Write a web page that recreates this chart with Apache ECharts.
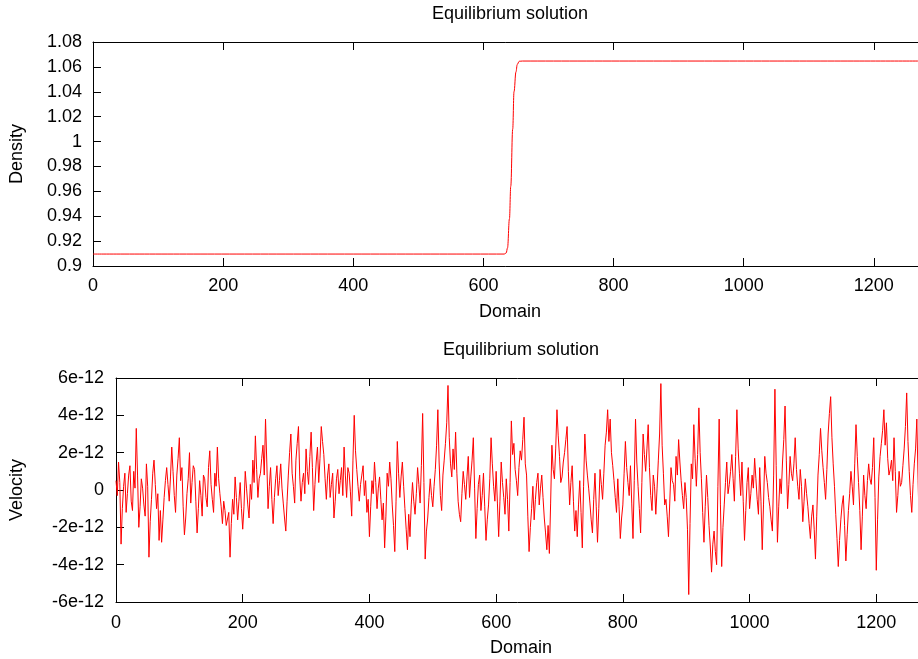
<!DOCTYPE html>
<html>
<head>
<meta charset="utf-8">
<script src="https://cdn.jsdelivr.net/npm/echarts@6/dist/echarts.min.js"></script>
<style>
html,body{margin:0;padding:0;background:#fff;}
#c{width:918px;height:659px;}
</style>
</head>
<body>
<div id="c"></div>
<script>
// ---- Data ----
const titleText = 'Equilibrium solution';
const xName = 'Domain';
const densityName = 'Density';
const velocityName = 'Velocity';

// Domain axis ticks
const domainMin = 0, domainMax = 1400, domainStep = 200;

// Density profile (top panel)
const densityX = [0, 632, 635, 637, 640, 642, 645, 647, 650, 652, 655, 660, 1280];
const densityY = [0.9096, 0.9096, 0.9105, 0.9145, 0.938, 0.964, 1.01, 1.04, 1.056, 1.062, 1.0645, 1.0647, 1.0647];
const densityTicks = { min: 0.9, max: 1.08, step: 0.02 };

// Velocity (bottom panel), sampled every 2 domain units, values in units of 1e-12
const velocityDx = 2;
const velocityE12 = [
  0.5,-0.3,1.5,0.4,-2.9,-1.0,0.2,0.9,-1.2,-0.2,0.8,1.3,-0.6,-1.1,1.0,0.1,3.3,0.8,-2.0,-0.9,
  0.6,0.1,-0.8,-1.4,1.4,0.2,-3.6,-1.7,-0.5,0.9,1.6,0.3,-1.0,-0.2,-2.7,-1.1,-2.8,-1.6,-0.4,0.5,
  1.2,0.3,-0.6,0.7,2.3,1.0,-0.3,-1.2,0.8,1.7,2.8,0.5,1.2,-0.9,-2.4,-1.5,-0.2,0.6,2.0,-0.7,
  0.4,1.3,1.1,-0.6,-2.3,-1.0,0.5,-0.3,-1.4,0.8,0.6,-0.4,-0.9,1.2,2.1,0.3,-0.5,-1.2,0.9,0.2,
  2.3,0.6,-0.2,-0.9,-1.8,-0.6,-1.1,-1.9,-2.0,-1.2,-3.6,-1.8,-0.5,-1.3,0.7,-0.4,-1.6,-0.6,0.4,-1.0,
  -2.1,-0.9,1.0,0.1,-0.8,-1.5,0.3,-0.5,1.6,0.4,2.9,1.1,-0.4,0.6,0.9,1.7,2.4,0.8,3.8,1.5,
  -1.0,0.2,1.2,-0.5,-1.8,-0.4,0.6,1.3,-0.3,0.5,1.4,0.1,-0.7,-1.5,-2.2,-0.6,0.8,2.0,3.0,0.9,
  0.2,-0.7,1.6,2.5,3.4,0.7,-0.6,0.4,0.9,-0.2,2.2,1.0,0.3,1.8,3.1,1.2,-1.1,0.3,1.5,2.3,
  0.4,1.7,3.4,2.6,1.9,0.6,-0.5,0.8,1.4,-0.4,0.3,0.9,-1.5,-0.6,0.6,1.1,-0.2,0.5,1.2,-0.3,
  2.3,0.8,-0.4,1.2,0.9,-0.1,-1.4,1.6,4.0,2.1,1.1,0.2,-0.6,0.3,0.8,1.3,-0.3,0.5,-1.2,-0.5,
  -2.5,-0.9,0.5,-0.2,1.5,0.4,-1.0,0.1,0.7,-0.5,-1.6,-0.7,-3.1,-1.4,0.9,0.2,1.5,0.6,-0.8,-1.9,
  -3.3,-0.6,2.6,0.9,-0.4,0.7,1.5,0.2,-1.0,-2.1,-3.2,-1.3,-2.5,-0.8,0.4,-0.6,-1.3,-0.2,1.2,0.3,
  -0.7,1.3,4.1,0.4,-3.7,-2.2,-1.5,-0.4,0.6,-0.3,-0.9,0.2,1.1,2.4,4.3,1.5,-0.3,-1.1,0.8,1.6,
  2.5,3.6,5.6,2.8,1.4,0.7,2.2,1.1,3.1,0.9,-0.6,-1.3,-1.7,-0.2,1.0,0.3,-0.5,0.7,1.8,-0.4,
  0.7,1.6,2.8,0.1,-2.6,-1.0,0.3,0.8,-1.1,-0.3,0.9,-0.9,-2.7,-1.6,-0.8,0.6,2.8,1.4,0.2,-0.6,
  1.0,-0.7,-2.5,-0.6,1.5,0.4,-0.4,-1.3,0.6,-0.5,-2.2,0.4,3.7,1.9,2.5,1.1,0.5,-0.3,1.2,2.1,
  1.6,2.7,3.9,1.4,0.8,-1.4,-3.3,-2.0,-1.0,0.2,-1.6,-0.5,0.4,0.9,-0.8,0.1,0.8,-0.4,-1.5,-2.3,
  -3.2,-1.9,-3.4,-0.7,2.4,1.1,0.6,2.2,4.3,2.9,1.8,0.4,0.7,1.5,2.0,2.7,3.4,1.0,-0.8,0.4,
  1.3,-0.6,-2.2,-1.1,-2.5,-0.8,0.5,-1.2,-3.1,0.2,3.0,1.6,0.8,0.1,-0.7,-1.6,-2.3,-0.5,0.9,-0.9,
  -2.8,-1.0,1.1,0.3,-0.5,0.9,2.4,3.1,4.3,2.6,3.8,2.0,1.3,0.5,-0.4,-1.2,0.6,-0.9,-2.6,-1.5,
  -0.8,0.9,2.6,1.2,0.4,-0.3,1.3,-0.7,-2.6,0.5,3.8,1.5,0.2,-1.0,-2.3,0.4,3.0,1.9,1.0,2.2,
  3.5,1.2,-0.3,-1.1,0.8,0.2,-1.3,0.1,1.6,3.0,5.7,2.4,0.9,-0.8,-0.5,-1.4,-2.5,-0.7,1.2,0.5,
  0.3,-0.6,1.8,0.8,2.7,1.5,0.5,-0.3,-1.0,0.4,-0.4,-2.1,-5.6,-1.8,1.4,0.6,3.5,1.7,0.2,1.9,
  4.4,2.0,0.6,-1.2,-2.8,-0.9,0.8,-0.4,-1.9,-3.0,-4.4,-2.9,-2.2,-3.3,-4.0,0.2,3.8,-0.8,-4.1,-2.0,
  -0.8,0.4,1.5,-0.2,0.3,1.0,1.9,0.6,-0.6,1.8,4.3,2.2,0.9,-0.3,1.5,-0.6,-2.7,-1.1,0.4,1.2,
  -1.0,-0.2,0.8,0.1,1.7,0.6,-0.5,-1.3,1.2,-0.6,-3.2,-0.8,1.8,0.9,0.4,-0.4,-0.9,-1.6,-2.2,0.8,
  5.4,1.3,-2.8,-0.9,0.6,-0.2,1.5,2.7,4.5,1.6,-1.0,0.3,1.8,0.9,0.5,1.4,2.8,1.1,0.2,-0.5,
  1.1,0.2,-1.7,-0.6,0.6,-0.2,-0.9,-1.8,-2.6,-1.4,-0.8,-2.1,-3.7,-1.4,0.8,1.9,3.3,2.1,1.2,0.4,
  -0.5,1.1,3.0,4.1,5.0,2.8,1.4,0.2,-1.3,-2.6,-4.1,-2.7,-1.6,-0.8,-0.3,-1.9,-3.8,-2.4,-1.1,-0.2,
  1.0,0.2,-0.8,1.4,3.5,1.8,0.4,-1.1,-3.2,-1.4,0.8,-0.3,-1.0,0.5,1.4,0.6,0.3,1.2,2.8,-0.4,
  -4.3,-1.6,0.7,1.8,2.5,3.2,4.3,2.4,3.6,1.7,0.8,1.1,1.6,0.5,2.8,1.0,-1.2,-0.3,1.0,0.2,
  0.4,1.3,2.2,3.4,5.2,2.6,1.0,-0.3,-1.2,0.3,1.4,2.2,3.8,0.5,-2.4,-0.6,1.7,-0.4,0.6,-1.3,
  -0.5
];
const velocityTicksE12 = { min: -6, max: 6, step: 2 };

// ---- Chart ----
const FONT = '"Liberation Sans", Arial, sans-serif';
const AX = '#000';
const densityData = densityX.map((x, i) => [x, densityY[i]]);
const velocityData = velocityE12.map((v, i) => [i * velocityDx, v * 1e-12]);

function xAxisPair(gridIndex, labelMargin) {
  const common = {
    type: 'value', gridIndex: gridIndex, min: domainMin, max: domainMax, interval: domainStep,
    splitLine: { show: false },
    axisLine: { show: true, onZero: false, lineStyle: { color: AX, width: 1 } },
    axisTick: { show: true, inside: true, length: 8, lineStyle: { color: AX, width: 1 } }
  };
  return [
    Object.assign({}, common, {
      position: 'bottom',
      axisLabel: { show: true, color: '#000', fontSize: 18, fontFamily: FONT, margin: labelMargin,
        formatter: v => String(v) }
    }),
    Object.assign({}, common, { position: 'top', axisLabel: { show: false } })
  ];
}

const option = {
  animation: false,
  backgroundColor: '#fff',
  grid: [
    { left: 93, top: 42, width: 911, height: 224, containLabel: false, outerBoundsMode: 'none' },
    { left: 116, top: 378, width: 887, height: 224, containLabel: false, outerBoundsMode: 'none' }
  ],
  xAxis: [].concat(xAxisPair(0, 11), xAxisPair(1, 12)),
  yAxis: [
    {
      type: 'value', gridIndex: 0,
      min: densityTicks.min, max: densityTicks.max, interval: densityTicks.step,
      splitLine: { show: false },
      axisLine: { show: true, onZero: false, lineStyle: { color: AX, width: 1 } },
      axisTick: { show: true, inside: true, length: 8, lineStyle: { color: AX, width: 1 } },
      axisLabel: { color: '#000', fontSize: 18, fontFamily: FONT, margin: 11,
        formatter: v => String(+(+v).toFixed(2)) }
    },
    {
      type: 'value', gridIndex: 1,
      min: velocityTicksE12.min * 1e-12, max: velocityTicksE12.max * 1e-12, interval: velocityTicksE12.step * 1e-12,
      splitLine: { show: false },
      axisLine: { show: true, onZero: false, lineStyle: { color: AX, width: 1 } },
      axisTick: { show: true, inside: true, length: 8, lineStyle: { color: AX, width: 1 } },
      axisLabel: { color: '#000', fontSize: 18, fontFamily: FONT, margin: 12,
        formatter: v => { const k = Math.round(v / 1e-12); return k === 0 ? '0' : k + 'e-12'; } }
    }
  ],
  series: [
    {
      type: 'line', xAxisIndex: 0, yAxisIndex: 0, data: densityData,
      showSymbol: false, symbol: 'none', smooth: 0.4, smoothMonotone: 'x',
      lineStyle: { color: '#ff0000', width: 1 }
    },
    {
      type: 'line', xAxisIndex: 2, yAxisIndex: 1, data: velocityData,
      showSymbol: false, symbol: 'none', sampling: null,
      lineStyle: { color: '#ff0000', width: 1 }
    }
  ],
  graphic: [
    { type: 'text', x: 510, y: 14, style: { text: titleText, font: '18px ' + FONT, fill: '#000', align: 'center', verticalAlign: 'middle' } },
    { type: 'text', x: 510, y: 312, style: { text: xName, font: '18px ' + FONT, fill: '#000', align: 'center', verticalAlign: 'middle' } },
    { type: 'text', x: 17, y: 154, rotation: Math.PI / 2, style: { text: densityName, font: '18px ' + FONT, fill: '#000', align: 'center', verticalAlign: 'middle' } },
    { type: 'text', x: 521, y: 350, style: { text: titleText, font: '18px ' + FONT, fill: '#000', align: 'center', verticalAlign: 'middle' } },
    { type: 'text', x: 521, y: 648, style: { text: xName, font: '18px ' + FONT, fill: '#000', align: 'center', verticalAlign: 'middle' } },
    { type: 'text', x: 17, y: 490, rotation: Math.PI / 2, style: { text: velocityName, font: '18px ' + FONT, fill: '#000', align: 'center', verticalAlign: 'middle' } }
  ]
};

const chart = echarts.init(document.getElementById('c'), null, { renderer: 'canvas' });
chart.setOption(option);
</script>
</body>
</html>
